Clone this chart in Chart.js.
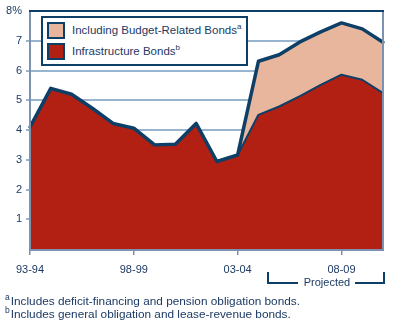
<!DOCTYPE html>
<html>
<head>
<meta charset="utf-8">
<script src="https://cdn.jsdelivr.net/npm/chart.js@4.4.1/dist/chart.umd.min.js"></script>
<style>
  body { margin: 0; background: #fff; font-family: 'Liberation Sans', Arial, sans-serif; color: #1c3a64; }
  #wrap { position: relative; width: 413px; height: 332px; overflow: hidden; }
  #grafica { position: absolute; left: 0; top: 0; }
  .leyenda { position: absolute; left: 41px; top: 16px; width: 203px; height: 46px; border: 2.5px solid #0e3f66; background: #fff; }
  .fila { position: absolute; left: 4px; height: 17px; font-size: 11.5px; line-height: 17px; white-space: nowrap; }
  .fila .caja { position: absolute; left: 0; top: 0; width: 14px; height: 13px; border: 2px solid #0e3f66; }
  .fila span.txt { position: absolute; left: 25px; top: 0; }
  sup { font-size: 8px; vertical-align: 5px; line-height: 0; }
  .proy { position: absolute; font-size: 11px; }
  .linea { position: absolute; background: #0e3f66; }
  .nota { position: absolute; left: 5px; font-size: 11.8px; line-height: 13px; white-space: nowrap; }
  .nota sup { font-size: 8.5px; margin-right: 1px; }
</style>
</head>
<body>
<div id="wrap">
  <canvas id="grafica" width="413" height="290"></canvas>

  <div class="leyenda">
    <div class="fila" style="top:4px"><div class="caja" style="background:#e7b69c"></div><span class="txt">Including Budget-Related Bonds<sup>a</sup></span></div>
    <div class="fila" style="top:25px"><div class="caja" style="background:#b22014"></div><span class="txt">Infrastructure Bonds<sup>b</sup></span></div>
  </div>

  <div class="linea" style="left:267px; top:272px; width:2px; height:12px"></div>
  <div class="linea" style="left:267px; top:282px; width:31px; height:2px"></div>
  <div class="proy" style="left:300px; top:276px; width:54px; text-align:center">Projected</div>
  <div class="linea" style="left:355px; top:282px; width:30px; height:2px"></div>
  <div class="linea" style="left:383px; top:272px; width:2px; height:12px"></div>

  <div class="nota" style="top:295px"><sup>a</sup>Includes deficit-financing and pension obligation bonds.</div>
  <div class="nota" style="top:308px"><sup>b</sup>Includes general obligation and lease-revenue bonds.</div>
</div>

<script>
const categorias = ['93-94', '94-95', '95-96', '96-97', '97-98', '98-99', '99-00', '00-01', '01-02',
  '02-03', '03-04', '04-05', '05-06', '06-07', '07-08', '08-09', '09-10', '10-11'];
const etiquetasX = ['93-94', '98-99', '03-04', '08-09'];
const infraestructura = [4.1, 5.4, 5.2, 4.73, 4.22, 4.06, 3.5, 3.52, 4.22, 2.94, 3.16,
  4.51, 4.79, 5.14, 5.52, 5.86, 5.69, 5.24];
const presupuesto = [0, 0, 0, 0, 0, 0, 0, 0, 0, 0, 0,
  1.8, 1.74, 1.82, 1.78, 1.74, 1.71, 1.71];
const marcasY = [1, 2, 3, 4, 5, 6, 7, 8];

const total = infraestructura.map((v, i) => +(v + presupuesto[i]).toFixed(2));

const azul = '#0e3f66';
const gris = '#7d92b0';
const rejilla = '#97b5cf';

// marco del área de la gráfica
const marco = {
  id: 'marco',
  afterDatasetsDraw(chart) {
    const { ctx, chartArea: a } = chart;
    ctx.save();
    ctx.lineWidth = 2;
    ctx.strokeStyle = gris;
    ctx.beginPath();
    ctx.moveTo(a.left, a.top);
    ctx.lineTo(a.left, a.bottom + 1);
    ctx.lineTo(a.right, a.bottom + 1);
    ctx.lineTo(a.right, a.top);
    ctx.stroke();
    ctx.strokeStyle = azul;
    ctx.beginPath();
    ctx.moveTo(a.left - 1, a.top);
    ctx.lineTo(a.right + 1, a.top);
    ctx.stroke();
    ctx.restore();
  }
};

new Chart(document.getElementById('grafica'), {
  type: 'line',
  data: {
    labels: categorias,
    datasets: [{
      label: 'Infrastructure Bonds',
      data: infraestructura,
      backgroundColor: '#b22014',
      borderColor: azul,
      borderWidth: 2,
      fill: 'origin',
    }, {
      label: 'Including Budget-Related Bonds',
      data: total,
      backgroundColor: '#e7b69c',
      borderColor: azul,
      borderWidth: 3.5,
      fill: '-1',
    }],
  },
  options: {
    responsive: false,
    animation: false,
    devicePixelRatio: 1,
    layout: { padding: { left: 0, right: 30, top: 11, bottom: 0 }, autoPadding: false },
    elements: {
      point: { radius: 0 },
      line: { tension: 0, borderJoinStyle: 'round', borderCapStyle: 'round' },
    },
    plugins: {
      legend: { display: false },
      tooltip: { enabled: false },
      filler: { drawTime: 'beforeDatasetsDraw' },
    },
    scales: {
      x: {
        offset: false,
        afterFit: s => { s.height = 41; },
        border: { display: false },
        grid: {
          drawOnChartArea: false,
          tickLength: 6,
          lineWidth: 1.5,
          color: c => etiquetasX.includes(categorias[c.index]) ? gris : 'rgba(0,0,0,0)',
        },
        ticks: {
          autoSkip: false,
          maxRotation: 0,
          padding: 8,
          color: '#1c3a64',
          font: { family: 'Liberation Sans', size: 11 },
          callback: (v, i) => etiquetasX.includes(categorias[i]) ? categorias[i] : '',
        },
      },
      y: {
        min: 0,
        max: 8,
        afterFit: s => { s.width = 30; },
        afterBuildTicks: s => { s.ticks = [0, ...marcasY].map(v => ({ value: v })); },
        border: { display: false },
        grid: {
          tickLength: 4,
          lineWidth: 2,
          color: c => (c.tick.value === 0 || c.tick.value === 8) ? 'rgba(0,0,0,0)' : rejilla,
        },
        ticks: {
          padding: 4,
          color: '#1c3a64',
          font: { family: 'Liberation Sans', size: 11 },
          callback: v => v === 0 ? '' : (v === 8 ? v + '%' : v),
        },
      },
    },
  },
  plugins: [marco],
});
</script>
</body>
</html>
